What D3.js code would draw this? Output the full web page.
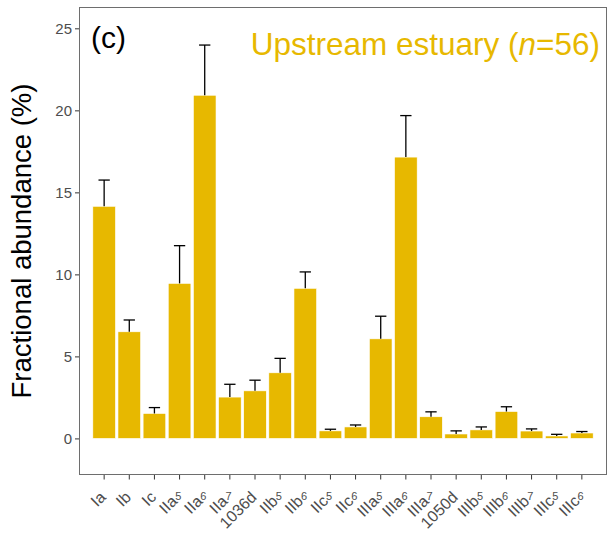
<!DOCTYPE html>
<html>
<head>
<meta charset="utf-8">
<script src="https://cdn.jsdelivr.net/npm/d3@7"></script>
<style>
  html, body { margin: 0; padding: 0; background: #fff; }
  svg { display: block; font-family: "Liberation Sans", Arial, sans-serif; }
</style>
</head>
<body>
<svg id="chart" width="614" height="536"></svg>
<script>
// Compound classes along the x axis: [base label, index]
const categories = [
  ["Ia", ""], ["Ib", ""], ["Ic", ""], ["IIa", "5"], ["IIa", "6"], ["IIa", "7"],
  ["1036d", ""], ["IIb", "5"], ["IIb", "6"], ["IIc", "5"], ["IIc", "6"],
  ["IIIa", "5"], ["IIIa", "6"], ["IIIa", "7"], ["1050d", ""], ["IIIb", "5"],
  ["IIIb", "6"], ["IIIb", "7"], ["IIIc", "5"], ["IIIc", "6"]
];
// Mean fractional abundance (%)
const means = [14.15, 6.5, 1.52, 9.45, 20.92, 2.52, 2.9, 4.0, 9.15, 0.46, 0.7,
  6.07, 17.15, 1.32, 0.27, 0.52, 1.64, 0.45, 0.15, 0.33];
// Upper end of the error bar (mean + error)
const upper = [15.75, 7.22, 1.88, 11.75, 23.98, 3.3, 3.55, 4.88, 10.15, 0.56, 0.82,
  7.45, 19.68, 1.62, 0.46, 0.7, 1.93, 0.58, 0.25, 0.42];
const yTicks = [0, 5, 10, 15, 20, 25];
const panelLabel = "(c)";
const groupName = "Upstream estuary";
const sampleN = 56;

const fill = "#E7B800";
const svg = d3.select("#chart");
const m = { left: 79, right: 7, top: 7, bottom: 61 };
const W = 614, H = 536;

const keys = categories.map((c, i) => i);
const x = d3.scaleBand().domain(keys)
  .range([m.left, W - m.right])
  .paddingInner(0.1).paddingOuter(0.55);
const y = d3.scaleLinear().domain([-2.23, 26.3]).range([H - m.bottom, m.top]);

const g = svg.append("g");

// bars
g.selectAll("rect.bar").data(means).join("rect")
  .attr("class", "bar")
  .attr("x", (d, i) => x(i))
  .attr("width", x.bandwidth())
  .attr("y", d => y(d))
  .attr("height", d => y(0) - y(d))
  .attr("fill", fill)
  .attr("stroke", "#fff")
  .attr("stroke-width", 0.6);

// error bars (upper half only)
const capW = x.step() * 0.45;
const eb = g.selectAll("g.err").data(means).join("g").attr("class", "err")
  .attr("stroke", "#000").attr("stroke-width", 1.3);
eb.append("line")
  .attr("x1", (d, i) => x(i) + x.bandwidth() / 2)
  .attr("x2", (d, i) => x(i) + x.bandwidth() / 2)
  .attr("y1", d => y(d))
  .attr("y2", (d, i) => y(upper[i]));
eb.append("line")
  .attr("x1", (d, i) => x(i) + x.bandwidth() / 2 - capW / 2)
  .attr("x2", (d, i) => x(i) + x.bandwidth() / 2 + capW / 2)
  .attr("y1", (d, i) => y(upper[i]))
  .attr("y2", (d, i) => y(upper[i]));

// panel border
svg.append("rect")
  .attr("x", m.left + 0.5).attr("y", m.top + 0.5)
  .attr("width", W - m.left - m.right - 1).attr("height", H - m.top - m.bottom - 1)
  .attr("fill", "none").attr("stroke", "#6e6e6e").attr("stroke-width", 1);

// y axis
const yAxis = svg.append("g")
  .attr("transform", `translate(${m.left},0)`)
  .call(d3.axisLeft(y).tickValues(yTicks).tickSize(4).tickPadding(3).tickFormat(d3.format("d")));
yAxis.select(".domain").remove();
yAxis.selectAll(".tick line").attr("stroke", "#333");
yAxis.selectAll(".tick text").attr("fill", "#4d4d4d").style("font-size", "15px");

// x axis
const xAxis = svg.append("g")
  .attr("transform", `translate(0,${H - m.bottom})`)
  .call(d3.axisBottom(x).tickSize(4.5).tickFormat(""));
xAxis.select(".domain").remove();
xAxis.selectAll(".tick line").attr("stroke", "#333");
xAxis.selectAll(".tick").each(function (d) {
  const [base, sub] = categories[d];
  const t = d3.select(this).append("text")
    .attr("text-anchor", "end")
    .attr("fill", "#4d4d4d")
    .style("font-size", "16px")
    .attr("transform", "translate(-5.5,15) rotate(-45)")
    .attr("dy", "0.72em");
  t.append("tspan").text(base);
  if (sub) {
    t.append("tspan").text(sub)
      .attr("dx", "-0.05em")
      .attr("dy", "-0.35em")
      .attr("rotate", 45)
      .style("font-size", "11px");
  }
});

// y title
svg.append("text")
  .attr("transform", `translate(31,${(m.top + H - m.bottom) / 2}) rotate(-90)`)
  .attr("text-anchor", "middle")
  .style("font-size", "27.5px")
  .attr("fill", "#000")
  .text("Fractional abundance (%)");

// panel tag
svg.append("text")
  .attr("x", 91).attr("y", 48)
  .style("font-size", "30px")
  .attr("fill", "#000")
  .text(panelLabel);

// group annotation
const ann = svg.append("text")
  .attr("x", 600).attr("y", 55)
  .attr("text-anchor", "end")
  .style("font-size", "31.5px")
  .attr("fill", fill);
ann.append("tspan").text(groupName + " (");
ann.append("tspan").text("n").style("font-style", "italic");
ann.append("tspan").text("=" + sampleN + ")");
</script>
</body>
</html>
